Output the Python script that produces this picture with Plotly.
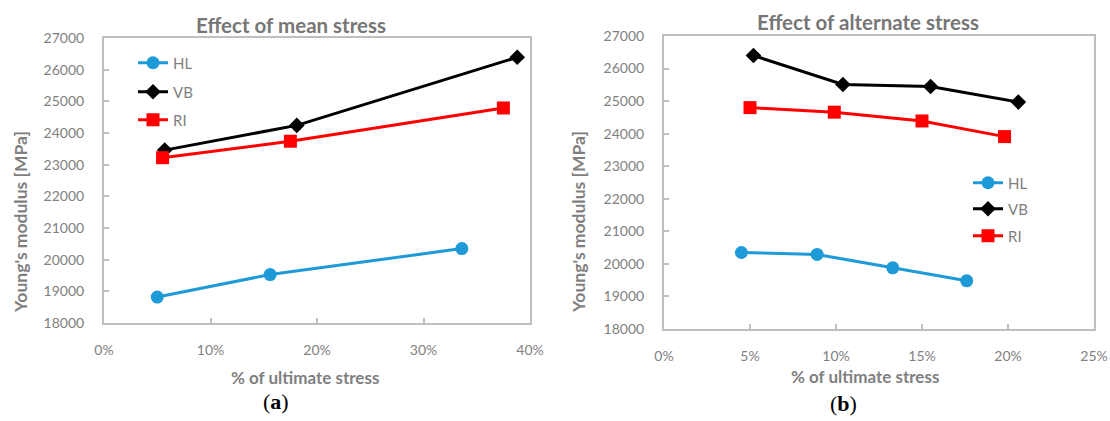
import plotly.graph_objects as go

# Panel (a): effect of mean stress
mean_hl_x = [5.0, 15.6, 33.6]
mean_hl_y = [18820, 19530, 20350]
mean_vb_x = [5.7, 18.1, 38.8]
mean_vb_y = [23460, 24240, 26390]
mean_ri_x = [5.5, 17.5, 37.5]
mean_ri_y = [23220, 23740, 24790]

# Panel (b): effect of alternate stress
alt_hl_x = [4.5, 8.9, 13.3, 17.6]
alt_hl_y = [20350, 20290, 19880, 19480]
alt_vb_x = [5.2, 10.4, 15.5, 20.6]
alt_vb_y = [26400, 25510, 25450, 24970]
alt_ri_x = [5.0, 9.9, 15.0, 19.8]
alt_ri_y = [24800, 24660, 24390, 23910]

series_names = ["HL", "VB", "RI"]
panel_titles = ["Effect of mean stress", "Effect of alternate stress"]
panel_labels = ["(<b>a</b>)", "(<b>b</b>)"]
y_title = "Young's modulus [MPa]"
x_title = "% of ultimate stress"

W, H = 1110, 421
FONT = "Lato, 'Open Sans', sans-serif"
GRAY_TXT = "#7F7F7F"
GRAY_LINE = "#BFBFBF"

styles = {
    "HL": dict(color="#1E9AD8", symbol="circle", size=13),
    "VB": dict(color="#000000", symbol="diamond", size=12),
    "RI": dict(color="#FF0000", symbol="square", size=13),
}

fig = go.Figure()

panels = [
    ("x", "y", [(mean_hl_x, mean_hl_y), (mean_vb_x, mean_vb_y), (mean_ri_x, mean_ri_y)]),
    ("x2", "y2", [(alt_hl_x, alt_hl_y), (alt_vb_x, alt_vb_y), (alt_ri_x, alt_ri_y)]),
]

legend_idx = 0
for xa, ya, data in panels:
    for name, (xs, ys) in zip(series_names, data):
        legend_idx += 1
        st = styles[name]
        fig.add_trace(go.Scatter(
            x=xs, y=ys, name=name, mode="lines+markers",
            xaxis=xa, yaxis=ya,
            line=dict(color=st["color"], width=3),
            marker=dict(color=st["color"], symbol=st["symbol"], size=st["size"]),
            legend="legend" if legend_idx == 1 else f"legend{legend_idx}",
        ))

# pixel boxes of the two plot areas (left, right, top, bottom)
boxes = [(104, 530, 38, 323), (664, 1094, 36, 329)]


def px(v):
    return v / W


def py(v):
    return 1 - v / H


axis_common = dict(
    showline=True, linecolor=GRAY_LINE, linewidth=2, mirror=True,
    showgrid=False, zeroline=False, automargin=False,
    ticks="inside", ticklen=5, tickcolor=GRAY_LINE, tickwidth=1.5,
    tickfont=dict(family=FONT, size=14, color=GRAY_TXT),
)

xranges = [(0, 40, 10), (0, 25, 5)]
layout = {}
for i, ((x0, x1, y0, y1), (lo, hi, step)) in enumerate(zip(boxes, xranges)):
    sfx = "" if i == 0 else str(i + 1)
    layout[f"xaxis{sfx}"] = dict(
        axis_common, domain=[px(x0), px(x1)], range=[lo, hi], dtick=step,
        ticksuffix="%", anchor=f"y{sfx}", ticklabelstandoff=13,
    )
    layout[f"yaxis{sfx}"] = dict(
        axis_common, domain=[py(y1), py(y0)], range=[18000, 27000], dtick=1000,
        tickformat="d", anchor=f"x{sfx}", ticklabelstandoff=15,
    )

# one legend per series so each entry sits at its own position
legend_pos = [
    (133, 63), (133, 92), (133, 120),
    (968, 183), (968, 209), (968, 236),
]
for k, (lx, ly) in enumerate(legend_pos, start=1):
    key = "legend" if k == 1 else f"legend{k}"
    layout[key] = dict(
        x=px(lx), y=py(ly), xanchor="left", yanchor="middle",
        bgcolor="rgba(0,0,0,0)", borderwidth=0,
        font=dict(family=FONT, size=15, color=GRAY_TXT),
        itemwidth=30,
    )

annotations = []


def add_text(text, x, y, size, color, family=FONT, angle=0):
    annotations.append(dict(
        text=text, x=px(x), y=py(y), xref="paper", yref="paper",
        showarrow=False, xanchor="center", yanchor="middle", textangle=angle,
        font=dict(family=family, size=size, color=color),
    ))


# chart titles
add_text(f"<b>{panel_titles[0]}</b>", 291, 25, 20.5, "#767676")
add_text(f"<b>{panel_titles[1]}</b>", 868, 22, 20.5, "#767676")
# axis titles
add_text(f"<b>{x_title}</b>", 305, 377, 17, GRAY_TXT)
add_text(f"<b>{x_title}</b>", 865, 376, 17, GRAY_TXT)
add_text(f"<b>{y_title}</b>", 20, 222, 17.5, GRAY_TXT, angle=-90)
add_text(f"<b>{y_title}</b>", 578, 222, 17.5, GRAY_TXT, angle=-90)
# panel labels
serif = "'Liberation Serif', 'DejaVu Serif', serif"
add_text(panel_labels[0], 276, 401, 22, "#000000", family=serif)
add_text(panel_labels[1], 843, 403, 22, "#000000", family=serif)

fig.update_layout(
    width=W, height=H,
    margin=dict(l=0, r=0, t=0, b=0),
    paper_bgcolor="white", plot_bgcolor="white",
    showlegend=True,
    annotations=annotations,
    **layout,
)

fig.write_html("out.html")
